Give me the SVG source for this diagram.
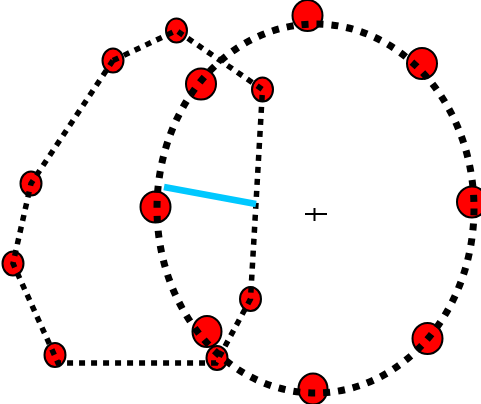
<svg xmlns="http://www.w3.org/2000/svg" width="481" height="404" viewBox="0 0 481 404">
<style>
.big{fill:#ff0000;stroke:#000;stroke-width:2}
.small{fill:#ff0000;stroke:#000;stroke-width:2}
.ring{fill:none;stroke:#000;stroke-width:7;stroke-dasharray:7 8}
.poly{fill:none;stroke:#000;stroke-width:5.5;stroke-dasharray:6 6}
</style>
<rect width="481" height="404" fill="#fff"/>
<g id="nodes">
<g id="c1"><ellipse class="big" cx="307.5" cy="15.5" rx="15" ry="15.5"/></g>
<g id="c2"><ellipse class="big" cx="422" cy="63.5" rx="15" ry="15.5"/></g>
<g id="c3"><ellipse class="big" cx="472" cy="202" rx="15" ry="15.5"/></g>
<g id="c4"><ellipse class="big" cx="427.5" cy="338.5" rx="15" ry="15.5"/></g>
<g id="c5"><ellipse class="big" cx="313" cy="389" rx="14.5" ry="15.5"/></g>
<g id="c6"><ellipse class="big" cx="207" cy="331.5" rx="14.5" ry="15.5"/></g>
<g id="c7"><ellipse class="big" cx="155.5" cy="207" rx="15" ry="15.5"/></g>
<g id="c8"><ellipse class="big" cx="201" cy="84" rx="15" ry="15.5"/></g>
<g id="p1"><ellipse class="small" cx="113" cy="60.5" rx="10.5" ry="12"/></g>
<g id="p2"><ellipse class="small" cx="176.5" cy="30.5" rx="10.5" ry="12"/></g>
<g id="p3"><ellipse class="small" cx="262.5" cy="89.5" rx="10.5" ry="12"/></g>
<g id="p4"><ellipse class="small" cx="250.5" cy="299" rx="10.5" ry="12"/></g>
<g id="p5"><ellipse class="small" cx="217" cy="358" rx="10.5" ry="12"/></g>
<g id="p6"><ellipse class="small" cx="55" cy="355" rx="10.5" ry="12"/></g>
<g id="p7"><ellipse class="small" cx="13" cy="263.5" rx="10.5" ry="12"/></g>
<g id="p8"><ellipse class="small" cx="31" cy="183.5" rx="10.5" ry="12"/></g>
</g>
<g id="connectors">
<ellipse class="ring" cx="315.5" cy="208.5" rx="158.5" ry="184.5"/>
<polygon class="poly" points="113,60.5 176.5,30.5 262.5,89.5 250.5,299 216,363 58,363 13,263.5 31,183.5"/>
<line x1="164" y1="187" x2="256" y2="204" stroke="#00c8ff" stroke-width="6.5"/>
</g>
<g id="center" stroke="#000" stroke-width="2">
<line x1="305" y1="214" x2="327" y2="214"/>
<line x1="314.5" y1="208" x2="314.5" y2="221"/>
</g>
</svg>
